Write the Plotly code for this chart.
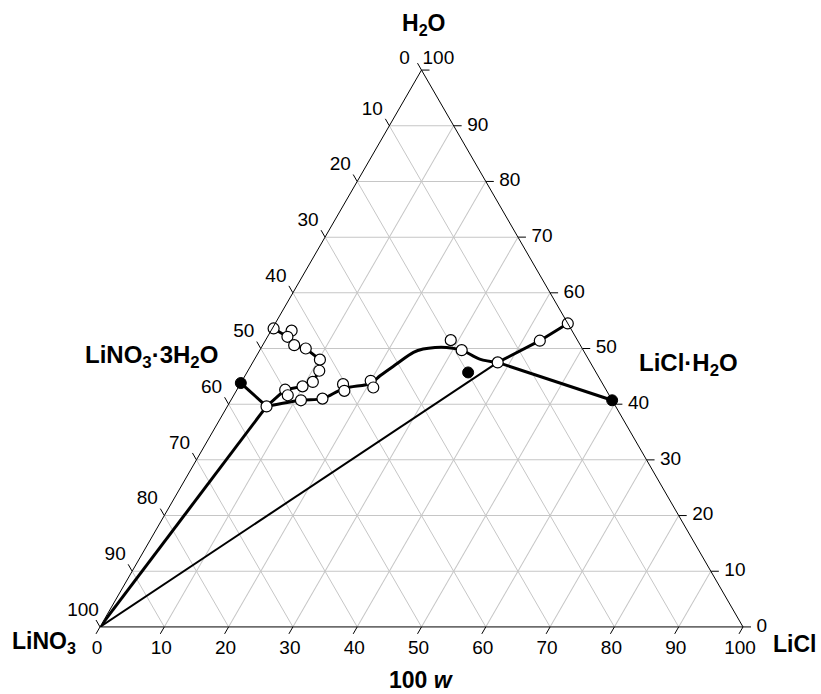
import math
import plotly.graph_objects as go

# ---------------- data (mass %, H2O / LiNO3 / LiCl) ----------------
# experimental points (open circles)
open_h2o = [53.6, 53.2, 52.1, 50.6, 50.0, 48.0, 46.0, 44.0, 43.2, 42.6, 41.6, 39.6,
            40.7, 41.0, 43.6, 42.4, 44.2, 43.0, 51.5, 49.7, 47.5, 51.4, 54.5]
open_lino3 = [46.2, 43.6, 44.8, 44.5, 43.0, 41.8, 42.9, 44.9, 46.9, 49.9, 50.0, 54.3,
              48.4, 44.9, 40.4, 40.8, 35.8, 36.0, 19.7, 18.9, 14.4, 5.9, 0.0]
open_licl = [0.2, 3.2, 3.1, 4.9, 7.0, 10.2, 11.1, 11.1, 9.9, 7.5, 8.4, 6.1,
             10.9, 14.1, 16.0, 16.8, 20.0, 21.0, 28.8, 31.4, 38.1, 42.7, 45.5]

# metastable LiNO3·3H2O branch
meta_h2o = [53.6, 52.1, 50.6, 50.0, 48.0, 46.0, 44.0, 43.2, 42.6, 39.6]
meta_lino3 = [46.2, 44.8, 44.5, 43.0, 41.8, 42.9, 44.9, 46.9, 49.9, 54.3]
meta_licl = [0.2, 3.1, 4.9, 7.0, 10.2, 11.1, 11.1, 9.9, 7.5, 6.1]

# solubility curve between the two invariant points
curve_h2o = [39.6, 40.7, 41.0, 42.8, 43.8, 45.1, 47.2, 49.3, 49.9, 50.2, 50.2, 49.7, 48.1, 47.5]
curve_lino3 = [54.3, 48.4, 44.9, 40.7, 35.9, 33.9, 30.3, 26.6, 24.8, 22.8, 21.0, 18.9, 16.9, 14.4]
curve_licl = [6.1, 10.9, 14.1, 16.5, 20.3, 21.0, 22.5, 24.1, 25.3, 27.0, 28.8, 31.4, 35.0, 38.1]

# LiCl-rich branch
licl_branch_h2o = [47.5, 51.4, 54.5]
licl_branch_lino3 = [14.4, 5.9, 0.0]
licl_branch_licl = [38.1, 42.7, 45.5]

# solid phases / filled points
solid_h2o = [43.8, 40.7, 45.7]
solid_lino3 = [56.2, 0.0, 19.9]
solid_licl = [0.0, 59.3, 34.4]

# tie lines: ([H2O...], [LiNO3...], [LiCl...])
tie_thick = [
    ([0.0, 39.6], [100.0, 54.3], [0.0, 6.1]),     # LiNO3 -> invariant point 1
    ([43.8, 39.6], [56.2, 54.3], [0.0, 6.1]),     # LiNO3·3H2O -> invariant point 1
    ([47.5, 40.7], [14.4, 0.0], [38.1, 59.3]),    # invariant point 2 -> LiCl·H2O
]
tie_thin = [
    ([0.0, 47.5], [100.0, 14.4], [0.0, 38.1]),    # LiNO3 -> invariant point 2
]

tick_vals = [0, 10, 20, 30, 40, 50, 60, 70, 80, 90, 100]
tick_labels = [str(v) for v in tick_vals]

FONT = "Liberation Sans, Arial, Helvetica, sans-serif"

# ---------------- geometry of the page ----------------
FIG_W, FIG_H = 821, 694
TRI_L, TRI_R, TRI_T, TRI_B = 100, 743, 70, 627      # ternary domain in pixels
U = (TRI_R - TRI_L) / 100.0                          # px per mass-% along an edge
TRI_H = (TRI_R - TRI_L) * math.sqrt(3) / 2
BASE_Y = (TRI_T + TRI_B) / 2 + TRI_H / 2             # pixel y of the base line

fig = go.Figure()

# ---------------- ternary data traces ----------------
for a, b, c in tie_thin:
    fig.add_trace(go.Scatterternary(a=a, b=b, c=c, mode="lines",
                                    line=dict(color="black", width=2), hoverinfo="skip"))
for a, b, c in tie_thick:
    fig.add_trace(go.Scatterternary(a=a, b=b, c=c, mode="lines",
                                    line=dict(color="black", width=3), hoverinfo="skip"))

fig.add_trace(go.Scatterternary(a=meta_h2o, b=meta_lino3, c=meta_licl, mode="lines",
                                line=dict(color="black", width=3)))
fig.add_trace(go.Scatterternary(a=curve_h2o, b=curve_lino3, c=curve_licl, mode="lines",
                                line=dict(color="black", width=3, shape="spline", smoothing=1)))
fig.add_trace(go.Scatterternary(a=licl_branch_h2o, b=licl_branch_lino3, c=licl_branch_licl,
                                mode="lines", line=dict(color="black", width=3)))

fig.add_trace(go.Scatterternary(a=open_h2o, b=open_lino3, c=open_licl, mode="markers",
                                marker=dict(size=11, color="white", line=dict(color="black", width=1.2)),
                                cliponaxis=False))
fig.add_trace(go.Scatterternary(a=solid_h2o, b=solid_lino3, c=solid_licl, mode="markers",
                                marker=dict(size=11, color="black", line=dict(color="black", width=1)),
                                cliponaxis=False))


# ---------------- ticks + tick labels on an overlaid cartesian frame ----------------
def to_xy(a, b, c):
    """ternary (%) -> cartesian units (1 unit = 1 % of an edge)."""
    return c + a / 2.0, a * math.sqrt(3) / 2.0


left_pts = [(100 - v, v, 0) for v in tick_vals]     # LiNO3 scale on left edge
bottom_pts = [(0, 100 - v, v) for v in tick_vals]   # LiCl scale on bottom edge
right_pts = [(v, 0, 100 - v) for v in tick_vals]    # H2O scale on right edge

TICK_LEN = 8.0
# outward tick directions in screen pixels (dx right, dy down)
tick_dirs = [
    (left_pts, (-0.5, -math.sqrt(3) / 2)),
    (bottom_pts, (-0.5, math.sqrt(3) / 2)),
    (right_pts, (1.0, 0.0)),
]
tx, ty = [], []
for pts, (ux, uy) in tick_dirs:
    for p in pts:
        x, y = to_xy(*p)
        tx += [x, x + ux * TICK_LEN / U, None]
        ty += [y, y - uy * TICK_LEN / U, None]
fig.add_trace(go.Scatter(x=tx, y=ty, mode="lines", line=dict(color="black", width=1),
                         xaxis="x", yaxis="y", hoverinfo="skip"))

# label offsets in pixels (dx right, dy down), anchor, apex exceptions
label_specs = [
    (left_pts, (-17.0, -16.0), "middle center", {0: (-17.0, -11.0)}),
    (bottom_pts, (-3.0, 22.0), "middle center", {}),
    (right_pts, (13.5, 0.0), "middle right", {10: (1.0, -11.0)}),
]
for pts, (dx, dy), pos, ov in label_specs:
    lx, ly = [], []
    for i, p in enumerate(pts):
        x, y = to_xy(*p)
        ddx, ddy = ov.get(i, (dx, dy))
        lx.append(x + ddx / U)
        ly.append(y - ddy / U)
    fig.add_trace(go.Scatter(x=lx, y=ly, mode="text", text=tick_labels,
                             textposition=pos, cliponaxis=False,
                             textfont=dict(family=FONT, size=19, color="black"),
                             xaxis="x", yaxis="y", hoverinfo="skip"))

axis_common = dict(
    tickmode="array", tickvals=tick_vals, ticks="", showticklabels=False,
    linecolor="black", linewidth=1, showline=True,
    gridcolor="#c6c6c6", gridwidth=1, showgrid=True, min=0,
    title=dict(text=""),
)

fig.update_layout(
    width=FIG_W, height=FIG_H,
    margin=dict(l=0, r=0, t=0, b=0, autoexpand=False),
    paper_bgcolor="white",
    plot_bgcolor="rgba(0,0,0,0)",
    font=dict(family=FONT, color="black"),
    ternary=dict(
        sum=100,
        bgcolor="white",
        domain=dict(x=[TRI_L / FIG_W, TRI_R / FIG_W],
                    y=[1 - TRI_B / FIG_H, 1 - TRI_T / FIG_H]),
        aaxis=axis_common,
        baxis=axis_common,
        caxis=axis_common,
    ),
    xaxis=dict(domain=[0, 1], range=[(0 - TRI_L) / U, (FIG_W - TRI_L) / U],
               visible=False, fixedrange=True),
    yaxis=dict(domain=[0, 1], range=[(BASE_Y - FIG_H) / U, BASE_Y / U],
               visible=False, fixedrange=True),
    showlegend=False,
)


def px(x, y):
    return x / FIG_W, 1 - y / FIG_H


labels = [
    ("<b>H<sub>2</sub>O</b>", 423, 24, 23),
    ("<b>LiNO<sub>3</sub>·3H<sub>2</sub>O</b>", 151, 356, 24),
    ("<b>LiCl·H<sub>2</sub>O</b>", 688, 364, 24),
    ("<b>LiNO<sub>3</sub></b>", 44, 642, 23),
    ("<b>LiCl</b>", 794, 644, 23),
    ("<b>100 <i>w</i></b>", 421, 680, 23),
]
for txt, x, y, size in labels:
    xp, yp = px(x, y)
    fig.add_annotation(text=txt, x=xp, y=yp, xref="paper", yref="paper",
                       xanchor="center", yanchor="middle", showarrow=False,
                       font=dict(family=FONT, size=size, color="black"))

fig.write_html("out.html")
